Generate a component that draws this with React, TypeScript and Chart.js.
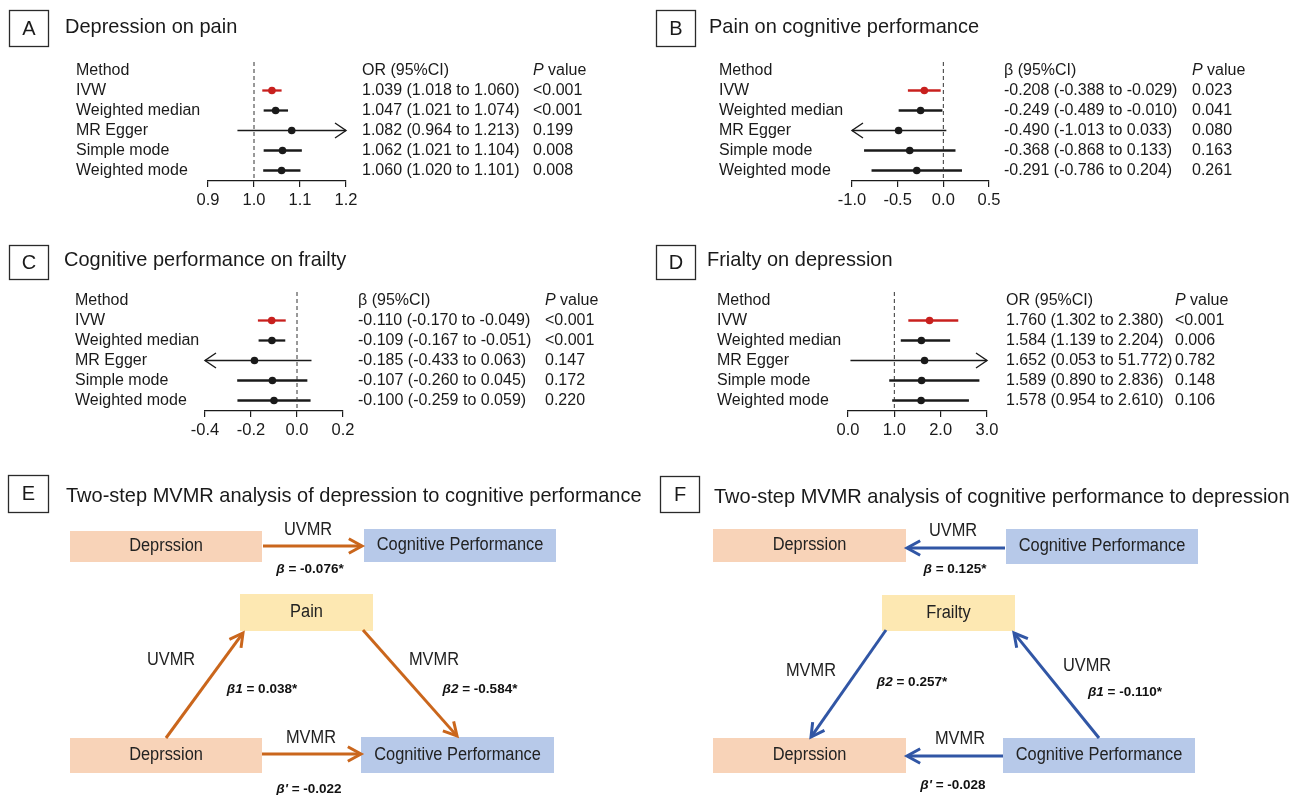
import React, { useEffect, useRef } from 'react';
import { Chart, registerables } from 'chart.js';

Chart.register(...registerables);

const W = 1294;
const H = 795;
const FONT = '"Liberation Sans", Arial, Helvetica, sans-serif';
const INK = '#1a1a1a';
const RED = '#C8201E';
const ORANGE = '#CA661C';
const BLUE = '#3156A5';
const PEACH = '#F8D3B8';
const LIGHTBLUE = '#B7C9E9';
const YELLOW = '#FDE8B2';

// ---------------- Forest plot data ----------------
const methods = ['IVW', 'Weighted median', 'MR Egger', 'Simple mode', 'Weighted mode'];

const estA = [1.039, 1.047, 1.082, 1.062, 1.060];
const lowA = [1.018, 1.021, 0.964, 1.021, 1.020];
const highA = [1.060, 1.074, 1.213, 1.104, 1.101];
const pA = ['<0.001', '<0.001', '0.199', '0.008', '0.008'];
const ticksA = [0.9, 1.0, 1.1, 1.2];

const estB = [-0.208, -0.249, -0.490, -0.368, -0.291];
const lowB = [-0.388, -0.489, -1.013, -0.868, -0.786];
const highB = [-0.029, -0.010, 0.033, 0.133, 0.204];
const pB = ['0.023', '0.041', '0.080', '0.163', '0.261'];
const ticksB = [-1.0, -0.5, 0.0, 0.5];

const estC = [-0.110, -0.109, -0.185, -0.107, -0.100];
const lowC = [-0.170, -0.167, -0.433, -0.260, -0.259];
const highC = [-0.049, -0.051, 0.063, 0.045, 0.059];
const pC = ['<0.001', '<0.001', '0.147', '0.172', '0.220'];
const ticksC = [-0.4, -0.2, 0.0, 0.2];

const estD = [1.760, 1.584, 1.652, 1.589, 1.578];
const lowD = [1.302, 1.139, 0.053, 0.890, 0.954];
const highD = [2.380, 2.204, 51.772, 2.836, 2.610];
const pD = ['<0.001', '0.006', '0.782', '0.148', '0.106'];
const ticksD = [0.0, 1.0, 2.0, 3.0];

// ---------------- Diagram data ----------------
const nodesE = ['Deprssion', 'Cognitive Performance', 'Pain', 'Deprssion', 'Cognitive Performance'];
const pathMethodE = ['UVMR', 'UVMR', 'MVMR', 'MVMR'];
const betaSymE = ['β', 'β1', 'β2', "β'"];
const betaE = [-0.076, 0.038, -0.584, -0.022];
const sigE = [true, true, true, false];

const nodesF = ['Deprssion', 'Cognitive Performance', 'Frailty', 'Deprssion', 'Cognitive Performance'];
const pathMethodF = ['UVMR', 'UVMR', 'MVMR', 'MVMR'];
const betaSymF = ['β', 'β1', 'β2', "β'"];
const betaF = [0.125, -0.110, 0.257, -0.028];
const sigF = [true, true, true, false];

// ---------------- Layout (positions / styles) ----------------
const PANELS = [
  {
    letter: 'A', title: 'Depression on pain', measure: 'OR (95%CI)', ref: 1,
    est: estA, low: lowA, high: highA, p: pA, ticks: ticksA,
    box: [9, 10, 39, 36], titleX: 65, titleY: 27, methodX: 76, ciX: 362, pX: 533,
    axisL: 208, axisR: 346, top: 62, axisY: 181,
  },
  {
    letter: 'B', title: 'Pain on cognitive performance', measure: 'β (95%CI)', ref: 0,
    est: estB, low: lowB, high: highB, p: pB, ticks: ticksB,
    box: [656, 10, 39, 36], titleX: 709, titleY: 27, methodX: 719, ciX: 1004, pX: 1192,
    axisL: 852, axisR: 989, top: 62, axisY: 181,
  },
  {
    letter: 'C', title: 'Cognitive performance on frailty', measure: 'β (95%CI)', ref: 0,
    est: estC, low: lowC, high: highC, p: pC, ticks: ticksC,
    box: [9, 245, 39, 34], titleX: 64, titleY: 260, methodX: 75, ciX: 358, pX: 545,
    axisL: 205, axisR: 343, top: 292, axisY: 411,
  },
  {
    letter: 'D', title: 'Frialty on depression', measure: 'OR (95%CI)', ref: 1,
    est: estD, low: lowD, high: highD, p: pD, ticks: ticksD,
    box: [656, 245, 39, 34], titleX: 707, titleY: 260, methodX: 717, ciX: 1006, pX: 1175,
    axisL: 848, axisR: 987, top: 292, axisY: 411,
  },
];

const DIAGRAMS = [
  {
    letter: 'E', title: 'Two-step MVMR analysis of depression to cognitive performance',
    box: [8, 475, 40, 37], titleX: 66, titleY: 496, color: ORANGE,
    nodes: nodesE, methods: pathMethodE, sym: betaSymE, beta: betaE, sig: sigE,
    rects: [
      { x: 70, y: 531, w: 192, h: 31, fill: PEACH },
      { x: 364, y: 529, w: 192, h: 33, fill: LIGHTBLUE },
      { x: 240, y: 594, w: 133, h: 37, fill: YELLOW },
      { x: 70, y: 738, w: 192, h: 35, fill: PEACH },
      { x: 361, y: 737, w: 193, h: 36, fill: LIGHTBLUE },
    ],
    edges: [
      { from: [263, 546], to: [362, 546], label: [308, 530], beta: [310, 569] },
      { from: [166, 738], to: [243, 633], label: [171, 660], beta: [262, 689] },
      { from: [363, 630], to: [457, 736], label: [434, 660], beta: [480, 689] },
      { from: [262, 754], to: [361, 754], label: [311, 738], beta: [309, 789] },
    ],
  },
  {
    letter: 'F', title: 'Two-step MVMR analysis of cognitive performance to depression',
    box: [660, 476, 39, 36], titleX: 714, titleY: 497, color: BLUE,
    nodes: nodesF, methods: pathMethodF, sym: betaSymF, beta: betaF, sig: sigF,
    rects: [
      { x: 713, y: 529, w: 193, h: 33, fill: PEACH },
      { x: 1006, y: 529, w: 192, h: 35, fill: LIGHTBLUE },
      { x: 882, y: 595, w: 133, h: 36, fill: YELLOW },
      { x: 713, y: 738, w: 193, h: 35, fill: PEACH },
      { x: 1003, y: 738, w: 192, h: 35, fill: LIGHTBLUE },
    ],
    edges: [
      { from: [1005, 548], to: [907, 548], label: [953, 531], beta: [955, 569] },
      { from: [1099, 738], to: [1014, 633], label: [1087, 666], beta: [1125, 692] },
      { from: [886, 630], to: [811, 737], label: [811, 671], beta: [912, 682] },
      { from: [1003, 756], to: [907, 756], label: [960, 739], beta: [953, 785] },
    ],
  },
];

const AXIS_H = 30;
const Y_MIN = -0.425;
const Y_MAX = 5.525;

function drawLabelBox(ctx: CanvasRenderingContext2D, letter: string, box: number[]) {
  const [x, y, w, h] = box;
  ctx.save();
  ctx.strokeStyle = '#2a2a2a';
  ctx.lineWidth = 1.3;
  ctx.strokeRect(x + 0.5, y + 0.5, w, h);
  ctx.fillStyle = INK;
  ctx.font = `20px ${FONT}`;
  ctx.textAlign = 'center';
  ctx.textBaseline = 'middle';
  ctx.fillText(letter, x + w / 2 + 0.5, y + h / 2 + 1);
  ctx.restore();
}

function drawTitle(ctx: CanvasRenderingContext2D, text: string, x: number, y: number) {
  ctx.save();
  ctx.fillStyle = INK;
  ctx.font = `21px ${FONT}`;
  ctx.textAlign = 'left';
  ctx.textBaseline = 'middle';
  ctx.translate(x, y);
  ctx.scale(0.952, 1);
  ctx.fillText(text, 0, 0);
  ctx.restore();
}

function fillScaled(ctx: CanvasRenderingContext2D, text: string, cx: number, cy: number, sx: number) {
  ctx.save();
  ctx.translate(cx, cy);
  ctx.scale(sx, 1);
  ctx.fillText(text, 0, 0);
  ctx.restore();
}

function chevron(ctx: CanvasRenderingContext2D, x: number, y: number, dir: number) {
  ctx.beginPath();
  ctx.moveTo(x - dir * 11, y - 7.5);
  ctx.lineTo(x, y);
  ctx.lineTo(x - dir * 11, y + 7.5);
  ctx.stroke();
}

function makeForest(canvas: HTMLCanvasElement, P: any) {
  const tMin = P.ticks[0];
  const tMax = P.ticks[P.ticks.length - 1];
  const datasets: any[] = [];
  datasets.push({
    data: [{ x: P.ref, y: Y_MIN }, { x: P.ref, y: Y_MAX }],
    showLine: true, borderColor: '#333333', borderWidth: 1, borderDash: [4, 3],
    pointRadius: 0, clip: false,
  });
  methods.forEach((_, i) => {
    const cut = P.low[i] < tMin || P.high[i] > tMax;
    datasets.push({
      data: [
        { x: Math.max(P.low[i], tMin), y: i + 1 },
        { x: Math.min(P.high[i], tMax), y: i + 1 },
      ],
      showLine: true, borderColor: i === 0 ? RED : INK, borderWidth: cut ? 1.4 : 2.3,
      pointRadius: 0, clip: false,
    });
  });
  datasets.push({
    data: P.est.map((v: number, i: number) => ({ x: v, y: i + 1 })),
    showLine: false, pointRadius: 3.8, pointHoverRadius: 3.8, pointBorderWidth: 0,
    pointBackgroundColor: P.est.map((_: number, i: number) => (i === 0 ? RED : INK)),
    clip: false,
  });

  const textPlugin = {
    id: 'forestText' + P.letter,
    afterDatasetsDraw(chart: any) {
      const ctx = chart.ctx as CanvasRenderingContext2D;
      const xs = chart.scales.x;
      const ys = chart.scales.y;
      ctx.save();
      ctx.lineWidth = 1.4;
      ctx.strokeStyle = INK;
      ctx.lineJoin = 'miter';
      methods.forEach((_, i) => {
        const y = ys.getPixelForValue(i + 1);
        if (P.low[i] < tMin) chevron(ctx, xs.getPixelForValue(tMin), y, -1);
        if (P.high[i] > tMax) chevron(ctx, xs.getPixelForValue(tMax), y, 1);
      });
      ctx.restore();
    },
    afterDraw(chart: any) {
      const ctx = chart.ctx as CanvasRenderingContext2D;
      const ys = chart.scales.y;
      drawLabelBox(ctx, P.letter, P.box);
      drawTitle(ctx, P.title, P.titleX, P.titleY);
      ctx.save();
      ctx.fillStyle = INK;
      ctx.textAlign = 'left';
      ctx.textBaseline = 'middle';
      const f = `16px ${FONT}`;
      const yh = ys.getPixelForValue(0);
      ctx.font = f;
      ctx.fillText('Method', P.methodX, yh);
      ctx.fillText(P.measure, P.ciX, yh);
      ctx.font = `italic 16px ${FONT}`;
      ctx.fillText('P', P.pX, yh);
      const pw = ctx.measureText('P').width;
      ctx.font = f;
      ctx.fillText(' value', P.pX + pw, yh);
      methods.forEach((m, i) => {
        const y = ys.getPixelForValue(i + 1);
        ctx.fillText(m, P.methodX, y);
        const s = `${P.est[i].toFixed(3)} (${P.low[i].toFixed(3)} to ${P.high[i].toFixed(3)})`;
        ctx.fillText(s, P.ciX, y);
        ctx.fillText(P.p[i], P.pX, y);
      });
      ctx.restore();
    },
  };

  return new Chart(canvas, {
    type: 'scatter',
    data: { datasets },
    options: {
      responsive: false,
      animation: false,
      devicePixelRatio: 1,
      events: [],
      layout: {
        padding: { left: P.axisL, right: W - P.axisR, top: P.top, bottom: H - P.axisY - AXIS_H },
      },
      plugins: { legend: { display: false }, tooltip: { enabled: false } },
      scales: {
        x: {
          type: 'linear',
          min: tMin,
          max: tMax,
          afterBuildTicks: (s: any) => { s.ticks = P.ticks.map((v: number) => ({ value: v })); },
          afterFit: (s: any) => { s.height = AXIS_H; },
          grid: { display: true, drawOnChartArea: false, drawTicks: true, tickLength: 6, color: INK, lineWidth: 1.2 },
          border: { display: true, color: INK, width: 1.3 },
          ticks: {
            color: INK, font: { family: FONT, size: 16.5 }, padding: 4, maxRotation: 0, autoSkip: false,
            callback: (v: any) => Number(v).toFixed(1),
          },
        },
        y: { type: 'linear', min: Y_MIN, max: Y_MAX, reverse: true, display: false },
      },
    } as any,
    plugins: [textPlugin],
  });
}

function drawBeta(ctx: CanvasRenderingContext2D, sym: string, val: number, sig: boolean, cx: number, cy: number) {
  const rest = ` = ${val.toFixed(3)}${sig ? '*' : ''}`;
  const fi = `italic bold 13.5px ${FONT}`;
  const fb = `bold 13.5px ${FONT}`;
  ctx.font = fi;
  const w1 = ctx.measureText(sym).width;
  ctx.font = fb;
  const w2 = ctx.measureText(rest).width;
  const x0 = cx - (w1 + w2) / 2;
  ctx.textAlign = 'left';
  ctx.textBaseline = 'middle';
  ctx.font = fi;
  ctx.fillText(sym, x0, cy);
  ctx.font = fb;
  ctx.fillText(rest, x0 + w1, cy);
}

function makeDiagram(canvas: HTMLCanvasElement) {
  const datasets: any[] = [];
  DIAGRAMS.forEach((D) => {
    D.edges.forEach((e) => {
      const dx = e.to[0] - e.from[0];
      const dy = e.to[1] - e.from[1];
      const len = Math.hypot(dx, dy);
      const ex = e.to[0] - (dx / len) * 1.5;
      const ey = e.to[1] - (dy / len) * 1.5;
      datasets.push({
        data: [{ x: e.from[0], y: e.from[1] }, { x: ex, y: ey }],
        showLine: true, borderColor: D.color, borderWidth: 3, pointRadius: 0, clip: false,
      });
    });
  });

  const diagPlugin = {
    id: 'diagram',
    beforeDatasetsDraw(chart: any) {
      const ctx = chart.ctx as CanvasRenderingContext2D;
      const xs = chart.scales.x;
      const ys = chart.scales.y;
      ctx.save();
      DIAGRAMS.forEach((D) => {
        D.rects.forEach((r) => {
          const x0 = xs.getPixelForValue(r.x);
          const y0 = ys.getPixelForValue(r.y);
          const x1 = xs.getPixelForValue(r.x + r.w);
          const y1 = ys.getPixelForValue(r.y + r.h);
          ctx.fillStyle = r.fill;
          ctx.fillRect(x0, y0, x1 - x0, y1 - y0);
        });
      });
      ctx.restore();
    },
    afterDatasetsDraw(chart: any) {
      const ctx = chart.ctx as CanvasRenderingContext2D;
      const xs = chart.scales.x;
      const ys = chart.scales.y;
      ctx.save();
      DIAGRAMS.forEach((D) => {
        // arrow heads
        ctx.strokeStyle = D.color;
        ctx.lineWidth = 3;
        ctx.lineJoin = 'miter';
        ctx.lineCap = 'butt';
        D.edges.forEach((e) => {
          const tx = xs.getPixelForValue(e.to[0]);
          const ty = ys.getPixelForValue(e.to[1]);
          const fx = xs.getPixelForValue(e.from[0]);
          const fy = ys.getPixelForValue(e.from[1]);
          const ang = Math.atan2(ty - fy, tx - fx);
          const L = 15;
          const a = 0.5;
          ctx.beginPath();
          ctx.moveTo(tx - L * Math.cos(ang - a), ty - L * Math.sin(ang - a));
          ctx.lineTo(tx, ty);
          ctx.lineTo(tx - L * Math.cos(ang + a), ty - L * Math.sin(ang + a));
          ctx.stroke();
        });
        // node texts
        ctx.fillStyle = '#222';
        ctx.font = `18px ${FONT}`;
        ctx.textAlign = 'center';
        ctx.textBaseline = 'middle';
        D.rects.forEach((r, i) => {
          fillScaled(ctx, D.nodes[i], xs.getPixelForValue(r.x + r.w / 2), ys.getPixelForValue(r.y + r.h / 2), 0.91);
        });
        // path method labels
        D.edges.forEach((e, i) => {
          ctx.font = `18px ${FONT}`;
          ctx.textAlign = 'center';
          ctx.fillStyle = '#222';
          fillScaled(ctx, D.methods[i], xs.getPixelForValue(e.label[0]), ys.getPixelForValue(e.label[1]), 0.91);
          ctx.fillStyle = '#111';
          drawBeta(ctx, D.sym[i], D.beta[i], D.sig[i], xs.getPixelForValue(e.beta[0]), ys.getPixelForValue(e.beta[1]));
        });
        drawLabelBox(ctx, D.letter, D.box);
        drawTitle(ctx, D.title, D.titleX, D.titleY);
      });
      ctx.restore();
    },
  };

  return new Chart(canvas, {
    type: 'scatter',
    data: { datasets },
    options: {
      responsive: false,
      animation: false,
      devicePixelRatio: 1,
      events: [],
      layout: { padding: 0 },
      plugins: { legend: { display: false }, tooltip: { enabled: false } },
      scales: {
        x: { type: 'linear', min: 0, max: W, display: false },
        y: { type: 'linear', min: 0, max: H, reverse: true, display: false },
      },
    } as any,
    plugins: [diagPlugin],
  });
}

export default function App() {
  const canvases = useRef<(HTMLCanvasElement | null)[]>([]);

  useEffect(() => {
    const charts: Chart[] = [];
    PANELS.forEach((P, i) => {
      const c = canvases.current[i];
      if (c) charts.push(makeForest(c, P));
    });
    const d = canvases.current[4];
    if (d) charts.push(makeDiagram(d));
    return () => {
      charts.forEach((ch) => ch.destroy());
    };
  }, []);

  return (
    <div
      style={{
        position: 'absolute', left: 0, top: 0, width: W, height: H,
        background: '#ffffff', overflow: 'hidden',
      }}
    >
      {[0, 1, 2, 3, 4].map((i) => (
        <canvas
          key={i}
          ref={(el) => { canvases.current[i] = el; }}
          width={W}
          height={H}
          style={{ position: 'absolute', left: 0, top: 0, width: W, height: H }}
        />
      ))}
    </div>
  );
}
